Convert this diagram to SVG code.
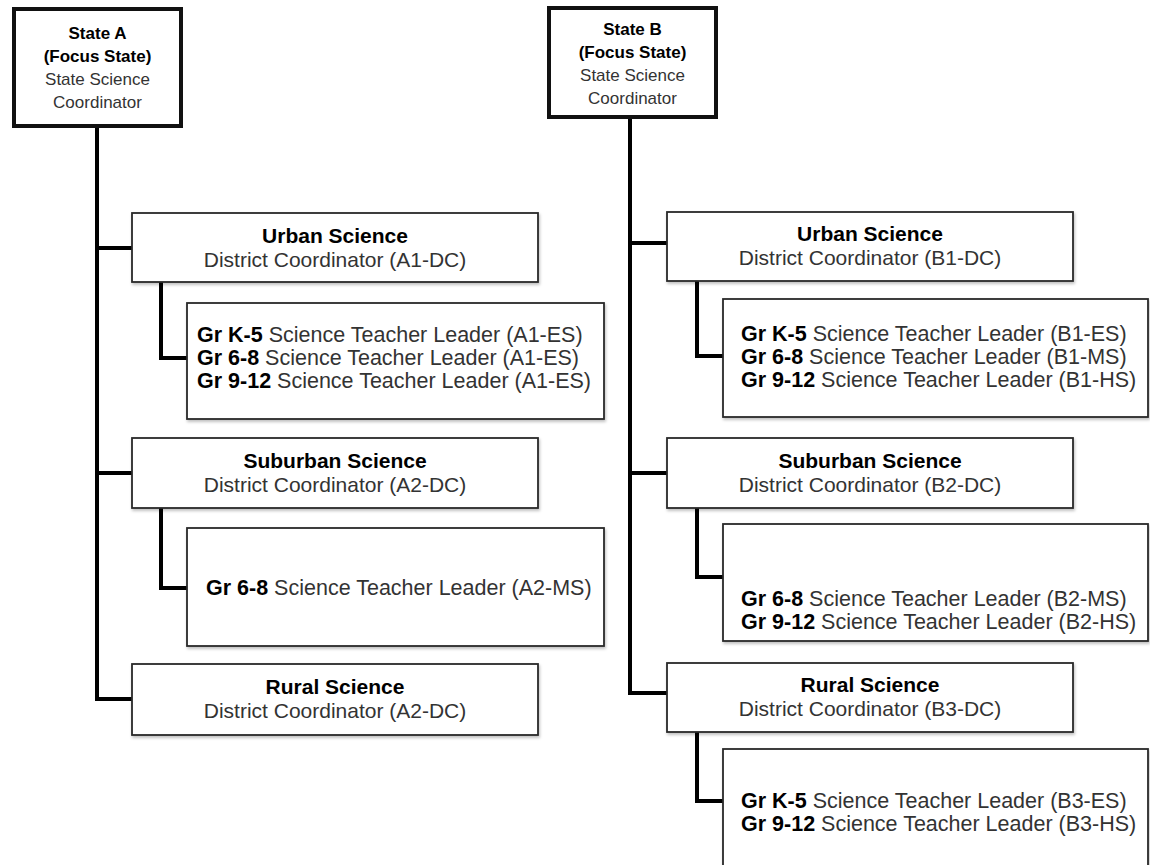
<svg xmlns="http://www.w3.org/2000/svg" width="1150" height="865" viewBox="0 0 1150 865">
<defs>
<filter id="sh" x="-5%" y="-10%" width="110%" height="125%">
<feDropShadow dx="1" dy="2" stdDeviation="1.5" flood-color="#000" flood-opacity="0.25"/>
</filter>
<style>
.state{fill:#fff;stroke:#111;stroke-width:4}
.box{fill:#fff;stroke:#2a2a2a;stroke-width:1.8;filter:url(#sh)}
.conn{fill:none;stroke:#000;stroke-width:4;stroke-linecap:square;stroke-linejoin:miter}
text{font-family:"Liberation Sans",Arial,Helvetica,sans-serif;fill:#333}
.b{font-weight:bold;fill:#000}
.s17{font-size:17px}
.t21{font-size:21px}
.t22{font-size:21.5px}
.c{text-anchor:middle}
</style>
</defs>
<rect width="1150" height="865" fill="#fff"/>
<g id="connectors">
<path class="conn" d="M97 127 V699 H132 M97 248 H132 M97 473 H132"/>
<path class="conn" d="M161 282 V358 H187 M161 508 V588 H187"/>
<path class="conn" d="M630 118 V693 H667 M630 243 H667 M630 473 H667"/>
<path class="conn" d="M697 281 V356 H723 M697 508 V577 H723 M697 732 V801 H723"/>
</g>
<g id="stateA">
<rect class="state" x="14" y="9" width="167" height="117"/>
<text class="s17 c"><tspan class="b" x="97.5" y="39">State A</tspan><tspan class="b" x="97.5" y="62">(Focus State)</tspan><tspan x="97.5" y="85">State Science</tspan><tspan x="97.5" y="108">Coordinator</tspan></text>
</g>
<g id="urbanA">
<rect class="box" x="132" y="213" width="406" height="69"/>
<text class="t21 c"><tspan class="b" x="335" y="243">Urban Science</tspan><tspan x="335" y="267">District Coordinator (A1-DC)</tspan></text>
</g>
<g id="teachersA1">
<rect class="box" x="187" y="303" width="417" height="116"/>
<text class="t22"><tspan x="197" y="342"><tspan class="b">Gr K-5</tspan> Science Teacher Leader (A1-ES)</tspan><tspan x="197" y="365"><tspan class="b">Gr 6-8</tspan> Science Teacher Leader (A1-ES)</tspan><tspan x="197" y="388"><tspan class="b">Gr 9-12</tspan> Science Teacher Leader (A1-ES)</tspan></text>
</g>
<g id="suburbanA">
<rect class="box" x="132" y="438" width="406" height="70"/>
<text class="t21 c"><tspan class="b" x="335" y="468">Suburban Science</tspan><tspan x="335" y="492">District Coordinator (A2-DC)</tspan></text>
</g>
<g id="teachersA2">
<rect class="box" x="187" y="528" width="417" height="118"/>
<text class="t22"><tspan x="206" y="595"><tspan class="b">Gr 6-8</tspan> Science Teacher Leader (A2-MS)</tspan></text>
</g>
<g id="ruralA">
<rect class="box" x="132" y="664" width="406" height="71"/>
<text class="t21 c"><tspan class="b" x="335" y="694">Rural Science</tspan><tspan x="335" y="718">District Coordinator (A2-DC)</tspan></text>
</g>
<g id="stateB">
<rect class="state" x="549" y="8" width="167" height="109"/>
<text class="s17 c"><tspan class="b" x="632.5" y="35">State B</tspan><tspan class="b" x="632.5" y="58">(Focus State)</tspan><tspan x="632.5" y="81">State Science</tspan><tspan x="632.5" y="104">Coordinator</tspan></text>
</g>
<g id="urbanB">
<rect class="box" x="667" y="212" width="406" height="69"/>
<text class="t21 c"><tspan class="b" x="870" y="241">Urban Science</tspan><tspan x="870" y="265">District Coordinator (B1-DC)</tspan></text>
</g>
<g id="teachersB1">
<rect class="box" x="723" y="299" width="425" height="118"/>
<text class="t22"><tspan x="741" y="341"><tspan class="b">Gr K-5</tspan> Science Teacher Leader (B1-ES)</tspan><tspan x="741" y="364"><tspan class="b">Gr 6-8</tspan> Science Teacher Leader (B1-MS)</tspan><tspan x="741" y="387"><tspan class="b">Gr 9-12</tspan> Science Teacher Leader (B1-HS)</tspan></text>
</g>
<g id="suburbanB">
<rect class="box" x="667" y="438" width="406" height="70"/>
<text class="t21 c"><tspan class="b" x="870" y="468">Suburban Science</tspan><tspan x="870" y="492">District Coordinator (B2-DC)</tspan></text>
</g>
<g id="teachersB2">
<rect class="box" x="723" y="524" width="425" height="117"/>
<text class="t22"><tspan x="741" y="606"><tspan class="b">Gr 6-8</tspan> Science Teacher Leader (B2-MS)</tspan><tspan x="741" y="629"><tspan class="b">Gr 9-12</tspan> Science Teacher Leader (B2-HS)</tspan></text>
</g>
<g id="ruralB">
<rect class="box" x="667" y="663" width="406" height="69"/>
<text class="t21 c"><tspan class="b" x="870" y="692">Rural Science</tspan><tspan x="870" y="716">District Coordinator (B3-DC)</tspan></text>
</g>
<g id="teachersB3">
<rect class="box" x="723" y="749" width="425" height="130"/>
<text class="t22"><tspan x="741" y="808"><tspan class="b">Gr K-5</tspan> Science Teacher Leader (B3-ES)</tspan><tspan x="741" y="831"><tspan class="b">Gr 9-12</tspan> Science Teacher Leader (B3-HS)</tspan></text>
</g>
</svg>
